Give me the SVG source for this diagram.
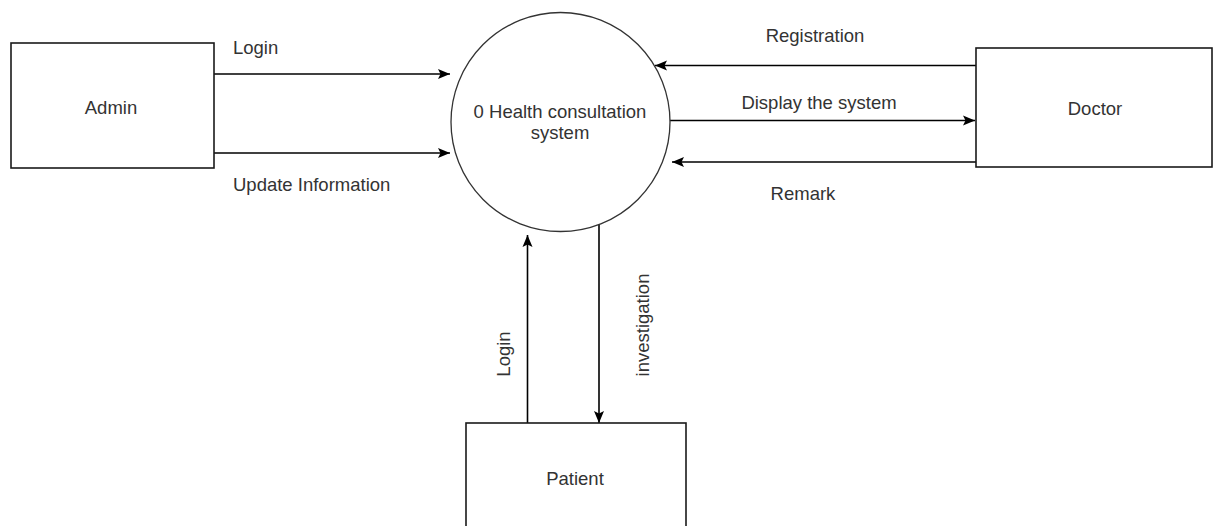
<svg xmlns="http://www.w3.org/2000/svg" width="1216" height="526" viewBox="0 0 1216 526">
<defs>
<marker id="arr" markerUnits="userSpaceOnUse" markerWidth="13" markerHeight="12" refX="12" refY="5.5" orient="auto">
<path d="M0,0.5 L12,5.5 L0,10.5 L2.5,5.5 z" fill="#000"/>
</marker>
<style>
.box{fill:#fff;stroke:#1a1a1a;stroke-width:1.6}
.proc{fill:#fff;stroke:#333;stroke-width:1.3}
.t{font-family:"Liberation Sans",Arial,sans-serif;font-size:18.5px;fill:#333}
.c{text-anchor:middle}
.ln{stroke:#000;stroke-width:1.6;fill:none;marker-end:url(#arr)}
</style>
</defs>
<rect width="1216" height="526" fill="#fff"/>
<g id="connectors">
<line class="ln" x1="214" y1="74" x2="450" y2="74"/>
<line class="ln" x1="214" y1="153" x2="450" y2="153"/>
<line class="ln" x1="976" y1="65.5" x2="655" y2="65.5"/>
<line class="ln" x1="670" y1="120.5" x2="975" y2="120.5"/>
<line class="ln" x1="976" y1="162" x2="672" y2="162"/>
<line class="ln" x1="527.5" y1="423" x2="527.5" y2="235"/>
<line class="ln" x1="599" y1="224" x2="599" y2="423"/>
<text class="t" x="233" y="53.5">Login</text>
<text class="t" x="233" y="190.5">Update Information</text>
<text class="t c" x="815" y="41.5">Registration</text>
<text class="t c" x="819" y="108.5">Display the system</text>
<text class="t c" x="803" y="199.5">Remark</text>
<text class="t c" transform="translate(509.5,354) rotate(-90)">Login</text>
<text class="t c" transform="translate(648.5,325) rotate(-90)">investigation</text>
</g>
<g id="admin">
<rect class="box" x="11" y="43" width="203" height="125"/>
<text class="t c" x="111" y="113.5">Admin</text>
</g>
<g id="system">
<circle class="proc" cx="560.5" cy="122" r="109.5"/>
<text class="t c" x="560" y="118">0 Health consultation</text>
<text class="t c" x="560" y="139">system</text>
</g>
<g id="doctor">
<rect class="box" x="976" y="48" width="236" height="119"/>
<text class="t c" x="1095" y="114.5">Doctor</text>
</g>
<g id="patient">
<rect class="box" x="466" y="423" width="220" height="110"/>
<text class="t c" x="575" y="484.5">Patient</text>
</g>
</svg>
